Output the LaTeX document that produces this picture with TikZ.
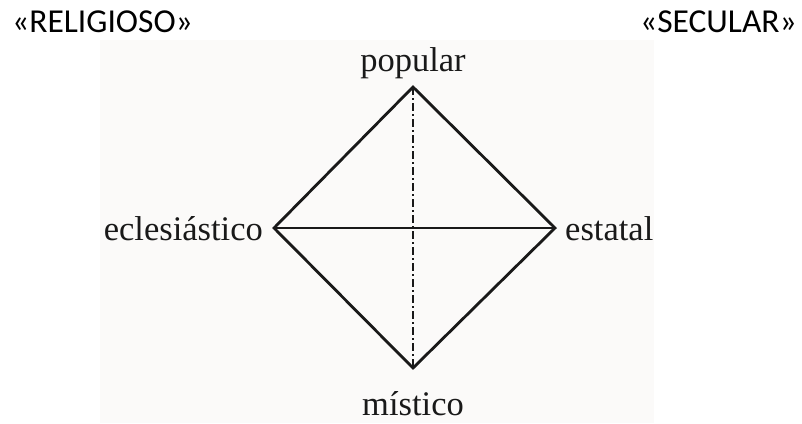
\documentclass[tikz,border=0pt]{standalone}
\usepackage{fontspec}
\setmainfont{Liberation Serif}
\newfontfamily\calib{Carlito}
\definecolor{bgc}{RGB}{251,250,249}
\definecolor{ink}{RGB}{25,25,25}
\begin{document}
\begin{tikzpicture}[x=1pt,y=-1pt,
  toplab/.style={font=\calib\fontsize{33.5}{38}\selectfont, inner sep=0pt, text=black},
  serlab/.style={font=\fontsize{34.5}{40}\selectfont, inner sep=0pt, text=ink},
  edge/.style={line width=2.8pt, draw=ink, line join=miter},
  axis/.style={line width=2.4pt, draw=ink, dash pattern=on 8pt off 3pt on 2pt off 3pt}]
\useasboundingbox (0,0) rectangle (802,423);
\fill[bgc] (100,40) rectangle (654,423);
\node[toplab, anchor=base west] (rel) at (12,32) {«RELIGIOSO»};
\node[toplab, anchor=base east] (sec) at (797,32) {«SECULAR»};
\coordinate (T) at (413,87);
\coordinate (L) at (274,228);
\coordinate (R) at (555,228);
\coordinate (B) at (413,368);
\draw[edge] (T) -- (R) -- (B) -- (L) -- cycle;
\draw[edge] (L) -- (R);
\draw[axis] (T) -- (B);
\node[serlab] (pop) at (413,63) {popular};
\node[serlab, anchor=east] (ecl) at (263,229) {eclesiástico};
\node[serlab, anchor=west] (est) at (565,229) {estatal};
\node[serlab] (mis) at (413,404) {místico};
\end{tikzpicture}
\end{document}
